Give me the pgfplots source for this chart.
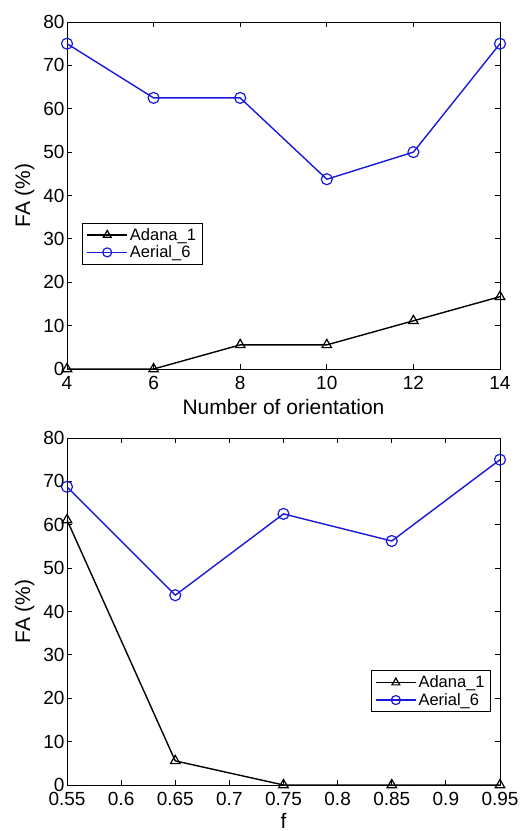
\documentclass[border=0pt]{standalone}
\usepackage{pgfplots}
\pgfplotsset{compat=1.18}
\usepackage{fontspec}
\setmainfont{Liberation Sans}
\definecolor{mblue}{rgb}{0.1,0.1,0.85}
\pgfplotsset{
  myaxis/.style={
    scale only axis,
    width=433pt, height=347pt,
    ymin=0, ymax=80,
    ytick={0,10,...,80},
    tick align=inside,
    major tick length=5pt,
    axis line style={line width=0.9pt},
    every tick/.style={black, line width=0.8pt},
    /pgf/number format/assume math mode=true,
    tick label style={font=\fontsize{19}{21}\selectfont},
    label style={font=\fontsize{21}{23}\selectfont},
    ylabel={FA (\%)},
    ylabel style={yshift=2pt},
    xticklabel style={yshift=-4pt},
    yticklabel style={xshift=1pt},
    legend cell align=left,
    legend style={font=\fontsize{16.5}{20}\selectfont, draw=black, line width=0.8pt, inner xsep=4pt, inner ysep=3pt, row sep=0pt},
    legend image code/.code={\draw[line width=1.4pt, mark repeat=2,mark phase=2, mark size=4.5pt, mark options={line width=1.2pt}] plot coordinates {(0pt,0pt) (20pt,0pt) (40pt,0pt)};},
  },
  adana/.style={black, line width=1.4pt, mark=triangle, mark size=5.5pt, mark options={solid, line width=1.2pt, fill=none}},
  aerial/.style={mblue, line width=1.4pt, mark=o, mark size=5.5pt, mark options={solid, line width=1.2pt, fill=none}},
}
\begin{document}
\begin{tikzpicture}[x=1pt,y=1pt]
\useasboundingbox (0,0) rectangle (531,831);
\begin{axis}[myaxis,
  at={(67pt,462pt)}, anchor=south west,
  xmin=4, xmax=14, xtick={4,6,8,10,12,14},
  xlabel={Number of orientation},
  xlabel style={yshift=-2pt},
  legend style={at={(axis cs:4.35,33.7)}, anchor=north west},
]
\addplot[adana] coordinates {(4,0) (6,0) (8,5.56) (10,5.56) (12,11.11) (14,16.67)};
\addlegendentry{Adana\_1}
\addplot[aerial] coordinates {(4,75) (6,62.5) (8,62.5) (10,43.75) (12,50) (14,75)};
\addlegendentry{Aerial\_6}
\end{axis}
\begin{axis}[myaxis,
  at={(67pt,46pt)}, anchor=south west,
  xmin=0.55, xmax=0.95, xtick={0.55,0.6,0.65,0.7,0.75,0.8,0.85,0.9,0.95},
  xticklabels={0.55,0.6,0.65,0.7,0.75,0.8,0.85,0.9,0.95},
  xlabel={f},
  xlabel style={yshift=0pt},
  legend style={at={(axis cs:0.9417,26.4)}, anchor=north east},
]
\addplot[adana] coordinates {(0.55,61.11) (0.65,5.56) (0.75,0) (0.85,0) (0.95,0)};
\addlegendentry{Adana\_1}
\addplot[aerial] coordinates {(0.55,68.75) (0.65,43.75) (0.75,62.5) (0.85,56.25) (0.95,75)};
\addlegendentry{Aerial\_6}
\end{axis}
\end{tikzpicture}
\end{document}
